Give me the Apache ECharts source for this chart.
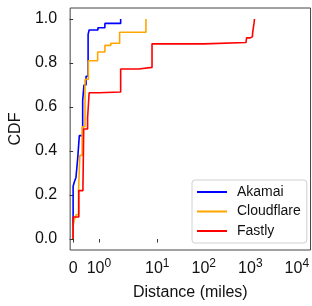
<!DOCTYPE html>
<html>
<head>
<meta charset="utf-8">
<script src="https://cdn.jsdelivr.net/npm/echarts@6/dist/echarts.min.js"></script>
<style>
  html, body { margin: 0; padding: 0; background: #fff; }
  #main { width: 312px; height: 306px; }
</style>
</head>
<body>
<div id="main"></div>
<script>
// symlog x axis (linthresh 2, linscale 1)
var LINTHRESH = 2;
var LINSCALE_ADJ = 1 / (1 - 0.1);
function tf(x) {
  return x <= LINTHRESH ? x / LINTHRESH * LINSCALE_ADJ : LINSCALE_ADJ + Math.log10(x / LINTHRESH);
}

var akamaiDist = [0, 0, 0.05, 0.11, 0.18, 0.24, 0.37, 0.42, 0.50, 0.58, 0.62, 0.96, 1.23, 1.84];
var akamaiCdf  = [0, 0.24, 0.26, 0.28, 0.37, 0.47, 0.63, 0.70, 0.74, 0.93, 0.95, 0.96, 0.98, 1.0];

var cloudflareDist = [0, 0, 0.05, 0.12, 0.21, 0.26, 0.35, 0.46, 0.59, 0.95, 1.23, 1.46, 1.8, 5.7];
var cloudflareCdf  = [0, 0.06, 0.09, 0.11, 0.22, 0.38, 0.51, 0.725, 0.81, 0.85, 0.88, 0.89, 0.94, 1.0];

var fastlyDist = [0, 0, 0.22, 0.38, 0.41, 0.56, 0.62, 1.0, 1.84, 4.0, 7.7, 100, 807, 830, 1000, 1114, 1160, 1200, 1230];
var fastlyCdf  = [0, 0.10, 0.22, 0.23, 0.50, 0.55, 0.665, 0.668, 0.773, 0.78, 0.887, 0.893, 0.90, 0.914, 0.92, 0.93, 0.96, 0.98, 1.0];

var xTickValues = [0, 1, 10, 100, 1000, 10000];
var xTickLabels = ['0', '10^0', '10^1', '10^2', '10^3', '10^4'];
var yTickValues = [0, 0.2, 0.4, 0.6, 0.8, 1.0];

function pairs(xs, ys) {
  return xs.map(function (x, i) { return [tf(x), ys[i]]; });
}

var xTickPos = xTickValues.map(tf);
var FONT = 'Liberation Sans, Arial, sans-serif';

var myChart = echarts.init(document.getElementById('main'));
var option = {
  animation: false,
  textStyle: { fontFamily: FONT },
  grid: {
    left: 69, top: 8, right: -1, bottom: 55,
    show: true, borderColor: '#444', borderWidth: 1
  },
  legend: {
    orient: 'vertical',
    left: 192, top: 180,
    padding: [4, 6, 4, 5],
    itemGap: 3.5,
    itemWidth: 30, itemHeight: 2,
    icon: 'rect',
    backgroundColor: '#fff',
    borderColor: '#d0d0d0', borderWidth: 1, borderRadius: 3,
    textStyle: { fontSize: 14, color: '#111', lineHeight: 16, padding: [0, 0, 0, 5], fontFamily: FONT },
    data: ['Akamai', 'Cloudflare', 'Fastly']
  },
  xAxis: {
    type: 'value',
    min: -0.064, max: 5.105,
    name: 'Distance (miles)',
    nameLocation: 'middle',
    nameGap: 35,
    nameTextStyle: { fontSize: 16, color: '#111', fontFamily: FONT },
    axisLine: { show: false },
    splitLine: { show: false },
    axisTick: { show: true, length: 3.5, lineStyle: { color: '#333' }, customValues: xTickPos },
    axisLabel: {
      margin: 8,
      customValues: xTickPos,
      formatter: function (v) {
        var best = 0;
        for (var i = 1; i < xTickPos.length; i++) {
          if (Math.abs(xTickPos[i] - v) < Math.abs(xTickPos[best] - v)) best = i;
        }
        var s = xTickLabels[best].split('^');
        return s.length > 1 ? '{b|' + s[0] + '}{s|' + s[1] + '}' : '{b|' + s[0] + '}';
      },
      rich: {
        b: { fontSize: 16, lineHeight: 22, color: '#111', fontFamily: FONT },
        s: { fontSize: 12, lineHeight: 12, verticalAlign: 'top', color: '#111', fontFamily: FONT }
      }
    }
  },
  yAxis: {
    type: 'value',
    min: -0.05, max: 1.05,
    name: 'CDF',
    nameLocation: 'middle',
    nameGap: 46,
    nameTextStyle: { fontSize: 16, color: '#111', fontFamily: FONT },
    axisLine: { show: false },
    splitLine: { show: false },
    axisTick: { show: true, length: 3.5, lineStyle: { color: '#333' }, customValues: yTickValues },
    axisLabel: {
      margin: 13,
      fontSize: 16,
      color: '#111',
      customValues: yTickValues,
      formatter: function (v) { return v.toFixed(1); }
    }
  },
  series: [
    { name: 'Akamai', type: 'line', step: 'end', showSymbol: false, symbol: 'none',
      color: '#0000ff', lineStyle: { width: 1.6, color: '#0000ff' }, data: pairs(akamaiDist, akamaiCdf) },
    { name: 'Cloudflare', type: 'line', step: 'end', showSymbol: false, symbol: 'none',
      color: '#ffa500', lineStyle: { width: 1.6, color: '#ffa500' }, data: pairs(cloudflareDist, cloudflareCdf) },
    { name: 'Fastly', type: 'line', step: 'end', showSymbol: false, symbol: 'none',
      color: '#ff0000', lineStyle: { width: 1.6, color: '#ff0000' }, data: pairs(fastlyDist, fastlyCdf) }
  ]
};
myChart.setOption(option);
</script>
</body>
</html>
